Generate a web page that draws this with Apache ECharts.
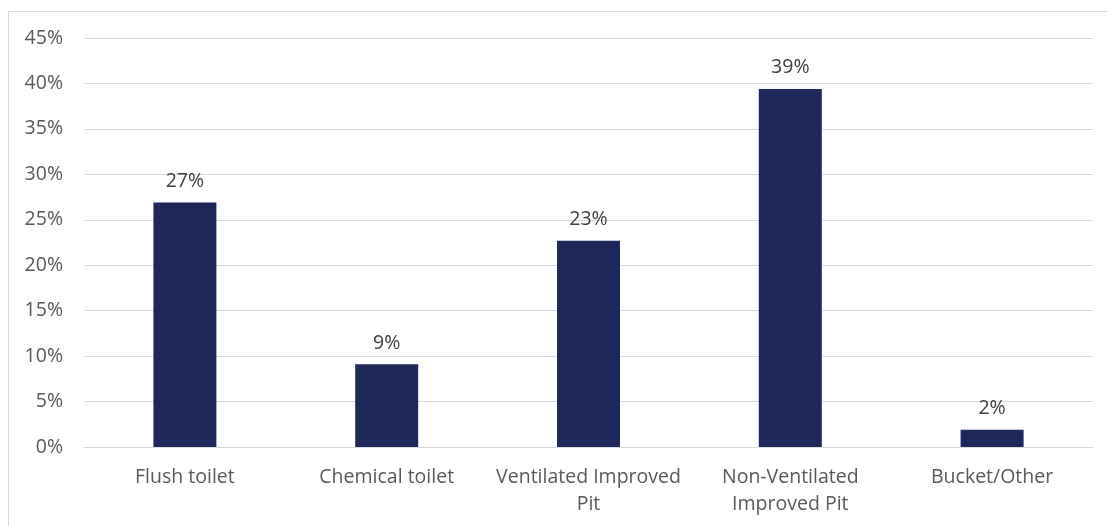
<!DOCTYPE html>
<html>
<head>
<meta charset="utf-8">
<script src="https://cdn.jsdelivr.net/npm/echarts@6/dist/echarts.min.js"></script>
<style>
  html, body { margin: 0; padding: 0; background: #fff; }
  #frame { position: absolute; left: 8px; top: 11px; width: 1110px; height: 530px;
           border: 1px solid #d9d9d9; box-sizing: border-box; }
  #chart { position: absolute; left: 0; top: 0; width: 1107px; height: 526px; }
</style>
</head>
<body>
<div id="frame"></div>
<div id="chart"></div>
<script>
// Household toilet type shares (percent)
const categories = ['Flush toilet', 'Chemical toilet', 'Ventilated Improved\nPit', 'Non-Ventilated\nImproved Pit', 'Bucket/Other'];
const shares = [26.9, 9.1, 22.7, 39.4, 1.9];
const yTicks = [0, 5, 10, 15, 20, 25, 30, 35, 40, 45];

const chart = echarts.init(document.getElementById('chart'), null, { renderer: 'canvas' });
const FONT = '"Open Sans", "Liberation Sans", sans-serif';
const SIZE = 19.5;

chart.setOption({
  animation: false,
  grid: { left: 84, right: 14, top: 38, bottom: 79, containLabel: false },
  xAxis: {
    type: 'category',
    data: categories,
    axisLine: { show: true, lineStyle: { color: '#d9d9d9', width: 1 } },
    axisTick: { show: false },
    axisLabel: { color: '#595959', fontSize: SIZE, fontFamily: FONT, margin: 17, lineHeight: 27, interval: 0 }
  },
  yAxis: {
    type: 'value',
    min: yTicks[0],
    max: yTicks[yTicks.length - 1],
    interval: 5,
    axisLine: { show: false },
    axisTick: { show: false },
    splitLine: { lineStyle: { color: '#d9d9d9', width: 1 } },
    axisLabel: { color: '#595959', fontSize: SIZE, fontFamily: FONT, margin: 21, formatter: v => v + '%' }
  },
  series: [{
    type: 'bar',
    data: shares,
    barWidth: 63,
    itemStyle: { color: '#1f285a' },
    label: {
      show: true,
      position: 'top',
      distance: 11,
      color: '#404040',
      fontSize: SIZE,
      fontFamily: FONT,
      formatter: p => Math.round(p.value) + '%'
    }
  }]
});
</script>
</body>
</html>
